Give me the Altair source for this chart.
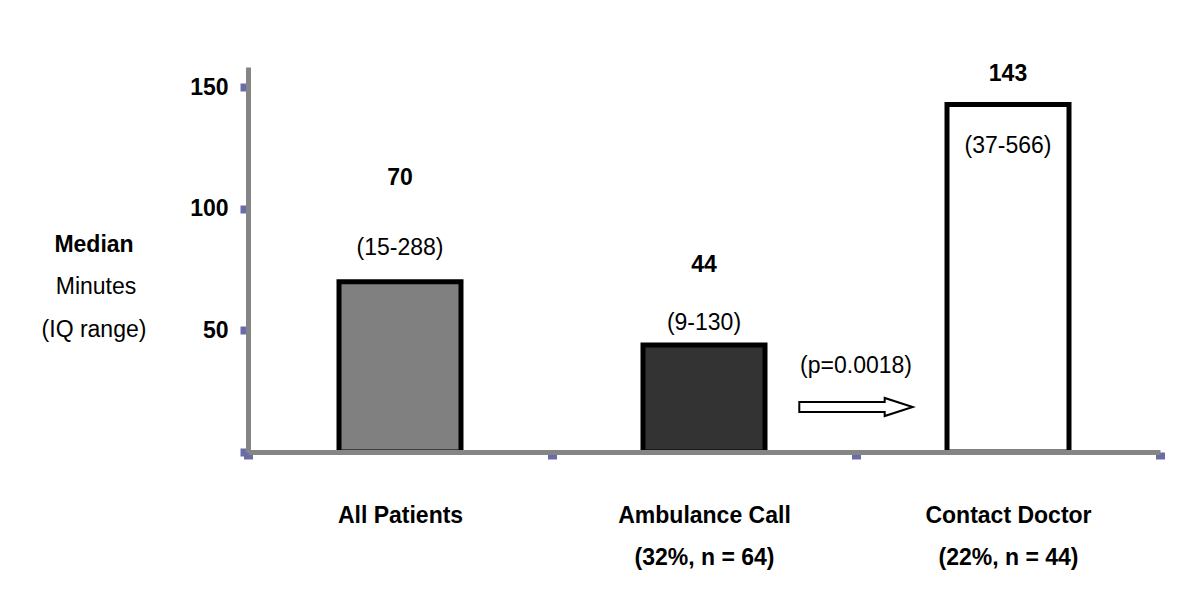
import altair as alt
import pandas as pd

categories = ["All Patients", "Ambulance Call", "Contact Doctor"]
medians = [70, 44, 143]
iqr_labels = ["(15-288)", "(9-130)", "(37-566)"]
subtitles = ["", "(32%, n = 64)", "(22%, n = 44)"]
fills = ["#808080", "#333333", "#ffffff"]
p_value_text = "(p=0.0018)"
y_ticks = [0, 50, 100, 150]
side_lines = ["Median", "Minutes", "(IQ range)"]

df = pd.DataFrame({"cat": categories, "median": medians, "iqr": iqr_labels,
                   "median_txt": [str(m) for m in medians]})

FONT = "Liberation Sans"
FS = 23

label_map = "{" + ", ".join(
    f"'{c}': " + ("['" + c + "', '" + s + "']" if s else "['" + c + "']")
    for c, s in zip(categories, subtitles)) + "}"

x_enc = alt.X("cat:N", sort=categories,
              scale=alt.Scale(domain=categories, paddingInner=0, paddingOuter=0),
              axis=alt.Axis(title=None, labelAngle=0, labelFont=FONT, labelFontSize=FS,
                            labelFontWeight="bold", labelColor="#000000",
                            labelExpr=label_map + "[datum.value]",
                            labelLineHeight=42, labelPadding=45,
                            tickBand="extent", tickColor="#6b6ba8", tickSize=7, tickWidth=9,
                            domainColor="#858585", domainWidth=5, zindex=1))
y_scale = alt.Scale(domain=[0, 158.4], nice=False, zero=True)
y_enc = alt.Y("median:Q", scale=y_scale,
              axis=alt.Axis(title=None, values=y_ticks, grid=False,
                            labelExpr="datum.value == 0 ? '' : datum.label",
                            labelFont=FONT, labelFontSize=FS, labelFontWeight="bold",
                            labelColor="#000000", labelPadding=12,
                            tickColor="#6b6ba8", tickSize=8, tickWidth=8,
                            domainColor="#858585", domainWidth=5, zindex=1))

bars = alt.Chart(df).mark_bar(size=122, stroke="#000000", strokeWidth=5).encode(
    x=x_enc, y=y_enc,
    color=alt.Color("cat:N", scale=alt.Scale(domain=categories, range=fills), legend=None),
)

offsets_median = [-104, -80, -30]
offsets_iqr = [-34, -22, 42]
text_layers = []
for c, dm, di in zip(categories, offsets_median, offsets_iqr):
    base = alt.Chart(df).transform_filter(alt.datum.cat == c)
    text_layers.append(base.mark_text(font=FONT, fontSize=FS, fontWeight="bold", dy=dm,
                                      baseline="middle", color="#000000").encode(
        x=alt.X("cat:N", sort=categories), y="median:Q", text="median_txt:N"))
    text_layers.append(base.mark_text(font=FONT, fontSize=FS, dy=di,
                                      baseline="middle", color="#000000").encode(
        x=alt.X("cat:N", sort=categories), y="median:Q", text="iqr:N"))

arrow_df = pd.DataFrame({"cat": [categories[2]], "txt": [p_value_text]})
arrow_path = ("M -1 -0.088 L 0.506 -0.088 L 0.506 -0.159 L 1 0 L 0.506 0.159 "
              "L 0.506 0.088 L -1 0.088 Z")
arrow = alt.Chart(arrow_df).mark_point(shape=arrow_path, size=12860, filled=True,
                                       fill="#ffffff", stroke="#000000", strokeWidth=2,
                                       opacity=1).encode(
    x=alt.X("cat:N", sort=categories, bandPosition=0), y=alt.value(340))
ptext = alt.Chart(arrow_df).mark_text(font=FONT, fontSize=FS, baseline="middle",
                                      color="#000000").encode(
    x=alt.X("cat:N", sort=categories, bandPosition=0), y=alt.value(299), text="txt:N")

side_df = pd.DataFrame({"txt": side_lines})
side_bold = alt.Chart(side_df.iloc[[0]]).mark_text(font=FONT, fontSize=FS, fontWeight="bold",
                                                   baseline="middle", color="#000000").encode(
    x=alt.value(-154), y=alt.value(178), text="txt:N")
side_2 = alt.Chart(side_df.iloc[[1]]).mark_text(font=FONT, fontSize=FS, baseline="middle",
                                                color="#000000").encode(
    x=alt.value(-152), y=alt.value(220), text="txt:N")
side_3 = alt.Chart(side_df.iloc[[2]]).mark_text(font=FONT, fontSize=FS, baseline="middle",
                                                color="#000000").encode(
    x=alt.value(-154), y=alt.value(263), text="txt:N")

chart = alt.layer(bars, *text_layers, arrow, ptext, side_bold, side_2, side_3).properties(
    width=912, height=385,
    background="#ffffff",
    autosize=alt.AutoSizeParams(type="none"),
    padding={"left": 240, "top": 59, "right": 20, "bottom": 120},
).configure_view(stroke=None, strokeWidth=0)

chart.save("out.html", embed_options={"renderer": "svg", "actions": False})
